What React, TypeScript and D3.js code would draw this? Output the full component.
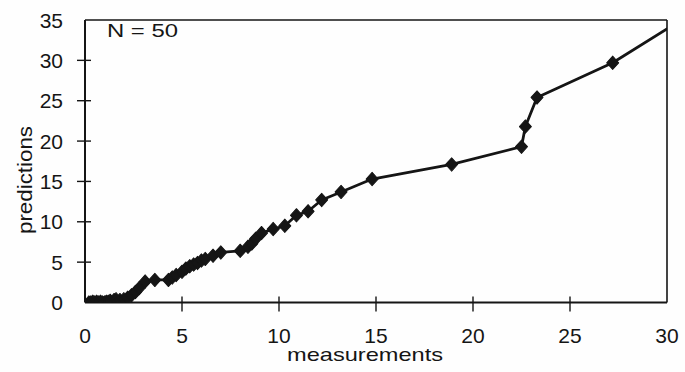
import React from 'react';
import * as d3 from 'd3';

// values (N = 50)
const measurements = [
  0.2, 0.3, 0.4, 0.5, 0.6, 0.7, 0.8, 0.9, 1.0, 1.1, 1.2, 1.3, 1.5, 1.6, 1.8,
  2.0, 2.2, 2.4, 2.6, 2.8, 3.1, 3.6, 4.3, 4.5, 4.7, 5.0, 5.2, 5.4, 5.6, 5.8,
  6.0, 6.2, 6.6, 7.0, 8.0, 8.4, 8.6, 8.8, 9.1, 9.7, 10.3, 10.9, 11.5, 12.2,
  13.2, 14.8, 18.9, 22.5, 22.7, 23.3, 27.2, 30.6,
];
const predictions = [
  0.0, 0.0, 0.1, 0.0, 0.1, 0.0, 0.1, 0.0, 0.0, 0.1, 0.1, 0.2, 0.3, 0.4, 0.3,
  0.4, 0.6, 0.9, 1.3, 1.8, 2.6, 2.8, 2.8, 3.1, 3.4, 3.8, 4.2, 4.5, 4.7, 4.9,
  5.2, 5.4, 5.8, 6.2, 6.4, 6.9, 7.3, 7.9, 8.6, 9.1, 9.5, 10.8, 11.3, 12.7,
  13.7, 15.3, 17.1, 19.3, 21.8, 25.4, 29.7, 34.8,
];
const xTicks = [0, 5, 10, 15, 20, 25, 30];
const yTicks = [0, 5, 10, 15, 20, 25, 30, 35];

const W = 685;
const H = 372;
const ink = '#151515';
const font = '"Liberation Sans", Arial, sans-serif';

export default function App() {
  const x = d3.scaleLinear().domain([0, 30]).range([85, 667]);
  const y = d3.scaleLinear().domain([0, 35]).range([302.5, 20]);
  const pts = measurements.map((m, i) => [m, predictions[i]] as [number, number]);

  const line = d3.line<[number, number]>()
    .x(d => x(d[0]))
    .y(d => y(d[1]));

  // rotated square = fat diamond like the scan
  const marker = d3.symbol().type(d3.symbolSquare).size(80)();

  const [x0, x1] = x.range();
  const [y0, y1] = y.range();

  return (
    <svg
      width={W}
      height={H}
      style={{ position: 'absolute', left: 0, top: 0, background: '#fefefe' }}
      fontFamily={font}
    >
      <defs>
        <clipPath id="plot">
          <rect x={x0} y={y1} width={x1 - x0} height={y0 - y1} />
        </clipPath>
      </defs>

      {/* frame */}
      <line x1={x0} x2={x1} y1={y1} y2={y1} stroke={ink} strokeWidth={1.6} />
      <line x1={x1} x2={x1} y1={y1} y2={y0} stroke={ink} strokeWidth={1.6} />
      <line x1={x0} x2={x1} y1={y0} y2={y0} stroke={ink} strokeWidth={2} />
      <line x1={x0} x2={x0} y1={y1} y2={y0} stroke={ink} strokeWidth={2} />

      {/* y ticks */}
      {yTicks.map(t => (
        <g key={'y' + t}>
          {t !== 35 && t !== 0 && (
            <line x1={x0 - 8} x2={x0 + 6} y1={y(t)} y2={y(t)} stroke={ink} strokeWidth={1.4} />
          )}
          <text x={63} y={y(t)} dy="0.36em" textAnchor="end" fontSize={21} fill={ink}>
            {t}
          </text>
        </g>
      ))}

      {/* x ticks */}
      {xTicks.map(t => (
        <g key={'x' + t}>
          {t !== 0 && t !== 30 && (
            <line x1={x(t)} x2={x(t)} y1={y0 - 6} y2={y0 + 9} stroke={ink} strokeWidth={1.4} />
          )}
          <text x={x(t)} y={343} textAnchor="middle" fontSize={21} fill={ink}>
            {t}
          </text>
        </g>
      ))}

      {/* series */}
      <g clipPath="url(#plot)">
        <path d={line(pts) ?? ''} fill="none" stroke={ink} strokeWidth={2.8} strokeLinejoin="round" />
        {pts.map((p, i) => (
          <path
            key={i}
            d={marker ?? ''}
            transform={`translate(${x(p[0])},${y(p[1])}) scale(0.95,1.05) rotate(45)`}
            fill={ink}
            stroke={ink}
            strokeWidth={1}
            strokeLinejoin="round"
          />
        ))}
      </g>

      <text x={107} y={37} fontSize={19} fill={ink} textLength={71} lengthAdjust="spacingAndGlyphs">
        N = 50
      </text>

      <text x={365} y={361} textAnchor="middle" fontSize={19} fill={ink} textLength={156} lengthAdjust="spacingAndGlyphs">
        measurements
      </text>

      <text
        transform="translate(32,180) rotate(-90)"
        textAnchor="middle"
        fontSize={20}
        fill={ink}
        textLength={108}
        lengthAdjust="spacingAndGlyphs"
      >
        predictions
      </text>
    </svg>
  );
}
